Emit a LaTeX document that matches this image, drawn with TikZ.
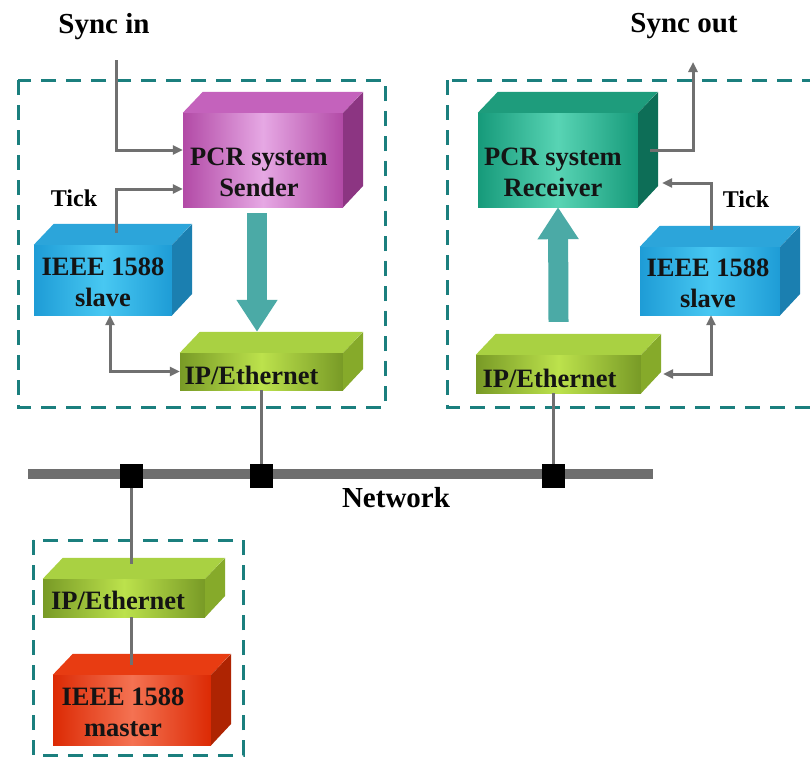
\documentclass[tikz,border=0pt]{standalone}
\usepackage{fontspec}
\setmainfont{Liberation Serif}
\usetikzlibrary{arrows.meta,calc}
\definecolor{dashteal}{HTML}{1B7F7E}
\definecolor{bigteal}{HTML}{4BAAA6}
\definecolor{linegray}{HTML}{707070}
\definecolor{netgray}{HTML}{6E6E6E}
\definecolor{txtdark}{HTML}{141414}
% sender (magenta)
\definecolor{sndedge}{HTML}{B24AA6}
\definecolor{sndmid}{HTML}{E6A8E4}
\definecolor{sndtop}{HTML}{C462BC}
\definecolor{sndside}{HTML}{8C3582}
% receiver (teal green)
\definecolor{rcvedge}{HTML}{169A7A}
\definecolor{rcvmid}{HTML}{58D4B4}
\definecolor{rcvtop}{HTML}{1E9C7C}
\definecolor{rcvside}{HTML}{0D6E57}
% slave (blue)
\definecolor{slvedge}{HTML}{1E9CD6}
\definecolor{slvmid}{HTML}{48C8F2}
\definecolor{slvtop}{HTML}{2CA5DA}
\definecolor{slvside}{HTML}{1B7FB0}
% ip/ethernet (yellow green)
\definecolor{ipedge}{HTML}{789A26}
\definecolor{ipmid}{HTML}{BCE24C}
\definecolor{iptop}{HTML}{A9D142}
\definecolor{ipside}{HTML}{86AA2A}
% master (red)
\definecolor{mstedge}{HTML}{DC2A04}
\definecolor{mstmid}{HTML}{F47252}
\definecolor{msttop}{HTML}{E83C12}
\definecolor{mstside}{HTML}{AE2402}
% name, centre, width, height, colour prefix, text, text offset
\newcommand\mycube[7]{%
  \node[frontface, left color=#5edge, right color=#5edge, middle color=#5mid,
        minimum width=#3pt, minimum height=#4pt] (#1) at (#2) {};
  \fill[#5top] (#1.north west) -- ++(20,-21) -- ++(#3,0) -- (#1.north east) -- cycle;
  \fill[#5side] (#1.north east) -- ++(20,-21) -- ++(0,#4) -- (#1.south east) -- cycle;
  \node[boxtext] (#1-text) at ($(#1.center)+(#7)$) {#6};
}
\begin{document}
\begin{tikzpicture}[x=1pt,y=-1pt,
  frontface/.style={rectangle, inner sep=0pt},
  boxtext/.style={inner sep=0pt, align=center, text=txtdark,
    font=\fontsize{26.5}{31}\selectfont\bfseries},
  lbl/.style={inner sep=0pt, text=black, font=\fontsize{29}{32}\selectfont\bfseries},
  ticklbl/.style={inner sep=0pt, text=black, font=\fontsize{24}{28}\selectfont\bfseries},
  frame/.style={draw=dashteal, line width=3pt, dash pattern=on 15pt off 10pt},
  conn/.style={draw=linegray, line width=3pt, -{Triangle[length=10pt,width=9pt]}},
  conntwo/.style={draw=linegray, line width=3pt, {Triangle[length=10pt,width=9pt]}-{Triangle[length=10pt,width=9pt]}},
  plain/.style={draw=linegray, line width=3pt},
  bigarr/.style={draw=bigteal, line width=20pt, -{Triangle[length=32pt,width=39pt]}},
  netsq/.style={rectangle, fill=black, minimum width=23pt, minimum height=24pt, inner sep=0pt}
]
\clip (0,0) rectangle (810,760);
\useasboundingbox (0,0) rectangle (810,760);
\fill[white] (0,0) rectangle (810,760);

% dashed frames
\draw[frame] (18,80) rectangle (385,407);
\draw[frame] (447,80) rectangle (830,407);
\draw[frame] (33,540) rectangle (243,755);

% boxes
\mycube{sender}{263,160}{160}{94}{snd}{PCR system\\Sender}{-4,12}
\mycube{receiver}{558,160}{160}{94}{rcv}{PCR system\\Receiver}{-5,12}
\mycube{slaveL}{103,280}{138}{70}{slv}{IEEE 1588\\slave}{0,2}
\mycube{slaveR}{710,281}{140}{68}{slv}{IEEE 1588\\slave}{-2,2}
\mycube{ipL}{261.5,371.5}{163}{37}{ip}{IP/Ethernet}{-10,4}
\mycube{ipR}{558.5,374}{165}{38}{ip}{IP/Ethernet}{-9,4}
\mycube{ipM}{124,598}{162}{38}{ip}{IP/Ethernet}{-6,2}
\mycube{master}{132,710}{158}{70}{mst}{IEEE 1588\\master}{-9,2}

% labels
\node[lbl, anchor=base] (syncinlbl) at (104,34) {Sync in};
\node[lbl, anchor=base] (syncoutlbl) at (684,33) {Sync out};
\node[ticklbl, anchor=base] (tickL) at (74,206) {Tick};
\node[ticklbl, anchor=base] (tickR) at (746,207) {Tick};
\node[lbl, anchor=base] (netlbl) at (396,507) {Network};

% network bar and taps
\coordinate (netW) at (28,474);
\coordinate (netE) at (653,474);
\node[netsq] (sq1) at (131,476) {};
\node[netsq] (sq2) at (261,476) {};
\node[netsq] (sq3) at (553,476) {};
\draw[plain] (ipL.south -| sq2) -- (sq2.center);
\draw[plain] (ipR.south -| sq3) -- (sq3.center);
\draw[plain] (sq1.center) -- ($(ipM.north -| sq1)+(0,-15)$);
\draw[plain] (ipM.south -| sq1) -- ($(master.north -| sq1)+(0,-10)$);
\draw[draw=netgray, line width=10pt] (netW) -- (netE);
\node[netsq] at (sq1) {};
\node[netsq] at (sq2) {};
\node[netsq] at (sq3) {};

% sender side connectors
\coordinate (syncin) at (116,60);
\draw[conn] (syncin) |- ([yshift=10pt]sender.west);
\draw[conn] ([xshift=13pt,yshift=12pt]slaveL.north) |- ([yshift=-29pt]sender.west);
\draw[conntwo] ([xshift=7pt]slaveL.south) |- (ipL.west);
\draw[bigarr] ([xshift=-6pt,yshift=-6pt]sender.south) -- ([xshift=-4.5pt,yshift=21pt]ipL.north);

% receiver side connectors
\coordinate (syncout) at (693,62);
\draw[conn] ([xshift=12pt,yshift=10pt]receiver.east) -| (syncout);
\draw[conn] ([xshift=1pt,yshift=17pt]slaveR.north) |- ([xshift=24pt,yshift=-23pt]receiver.east);
\draw[conntwo] ([xshift=22pt]ipR.east) -| ([xshift=1pt]slaveR.south);
\draw[bigarr] ([yshift=33pt]ipR.north) -- (receiver.south);
\end{tikzpicture}
\end{document}
